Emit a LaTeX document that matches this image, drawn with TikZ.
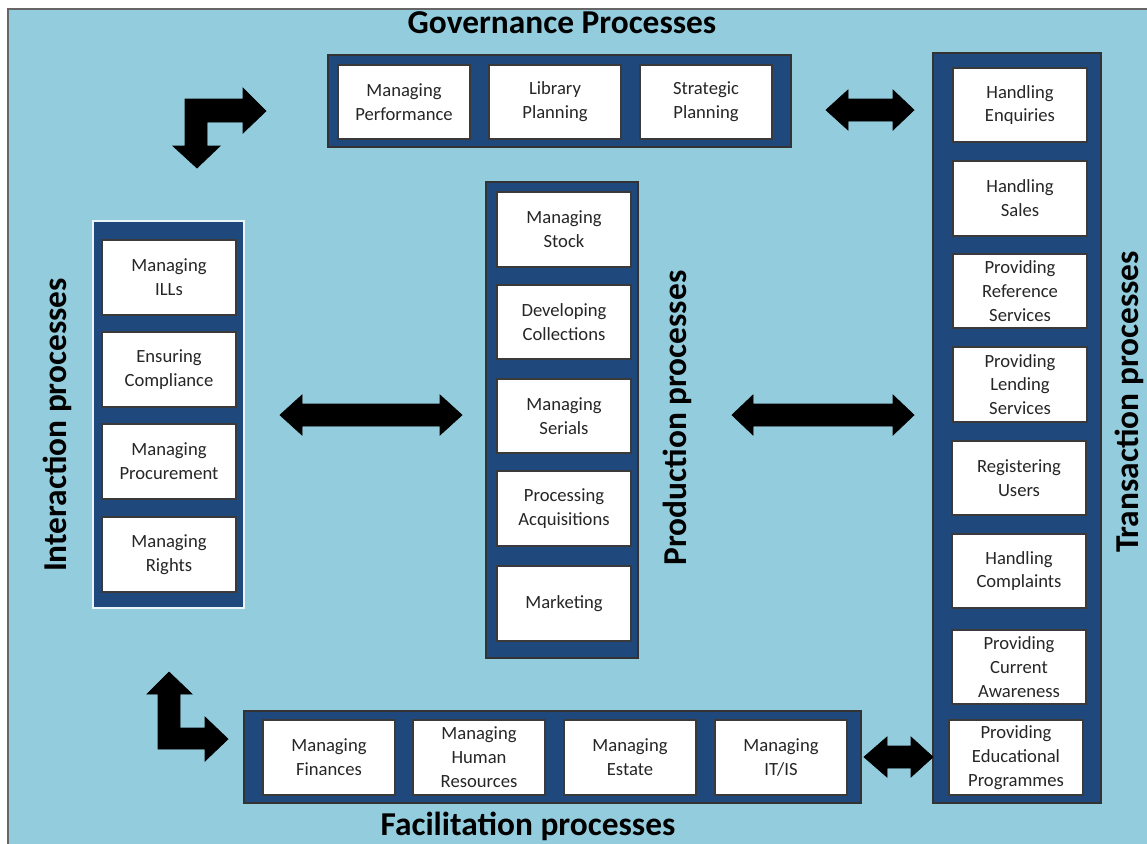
\documentclass[tikz,border=0pt]{standalone}
\usepackage{fontspec}
\setmainfont{Carlito}
\definecolor{bgblue}{HTML}{93CDDD}
\definecolor{darkblue}{HTML}{1F497D}
\definecolor{boxtext}{HTML}{262626}
\definecolor{boxedge}{HTML}{3A3A3A}
\tikzset{
  pbox/.style={draw=boxedge, line width=0.6pt, fill=white, inner sep=0pt, outer sep=0pt, align=center, text=boxtext, font=\fontsize{10.6}{13.6}\selectfont},
  container/.style={draw=black!80, line width=0.6pt, fill=darkblue, inner sep=0pt, outer sep=0pt},
  title/.style={font=\fontsize{19}{22}\bfseries\selectfont, text=black, inner sep=0pt},
  blockarrow/.style={fill=black, draw=black, line width=0.4pt, line join=miter}
}
\newcommand\pbox[6]{\node[pbox, minimum width={(#4-#2)*0.02cm}, minimum height={(#5-#3)*0.02cm}] (#1) at ({(#2+#4)/2},{(#3+#5)/2}) {#6};}
\newcommand\cbox[6][]{\node[container, #1, minimum width={(#5-#3)*0.02cm}, minimum height={(#6-#4)*0.02cm}] (#2) at ({(#3+#5)/2},{(#4+#6)/2}) {};}
% double arrow: left tip x, left head base x, right head base x, right tip x, centre y
\newcommand\dblarrow[5]{\fill[blockarrow] (#1,#5) -- (#2,#5-20) -- (#2,#5-11) -- (#3,#5-11) -- (#3,#5-20) -- (#4,#5) -- (#3,#5+20) -- (#3,#5+11) -- (#2,#5+11) -- (#2,#5+20) -- cycle;}
\begin{document}
\begin{tikzpicture}[x=0.02cm, y=-0.02cm]
\useasboundingbox (0,0) rectangle (1147,843);
\fill[white] (0,0) rectangle (1147,843);
\draw[fill=bgblue, draw=black!60, line width=0.6pt] (8,9) rectangle (1152,850);

% Governance
\node[title] (govtitle) at (562,23) {Governance Processes};
\cbox{gov}{328}{55}{791}{147}
\pbox{g1}{338}{65}{470}{139}{Managing\\Performance}
\pbox{g2}{489}{65}{621}{139}{Library\\Planning}
\pbox{g3}{640}{65}{772}{139}{Strategic\\Planning}

% Transaction
\cbox{tra}{933}{53}{1101}{803}
\pbox{t1}{953}{68}{1087}{142}{Handling\\Enquiries}
\pbox{t2}{953}{161}{1087}{236}{Handling\\Sales}
\pbox{t3}{953}{254}{1087}{328}{Providing\\Reference\\Services}
\pbox{t4}{953}{347}{1087}{422}{Providing\\Lending\\Services}
\pbox{t5}{952}{441}{1086}{515}{Registering\\Users}
\pbox{t6}{952}{534}{1086}{608}{Handling\\Complaints}
\pbox{t7}{952}{630}{1086}{704}{Providing\\Current\\Awareness}
\pbox{t8}{949}{720}{1083}{795}{Providing\\Educational\\Programmes}
\node[title, rotate=90] (tratitle) at (1129,402) {Transaction processes};

% Interaction
\cbox[draw=white!80!bgblue]{int}{93}{221}{244}{608}
\pbox{i1}{102}{240}{236}{315}{Managing\\ILLs}
\pbox{i2}{102}{332}{236}{407}{Ensuring\\Compliance}
\pbox{i3}{102}{424}{236}{499}{Managing\\Procurement}
\pbox{i4}{102}{517}{236}{592}{Managing\\Rights}
\node[title, rotate=90] (inttitle) at (57,425) {Interaction processes};

% Production
\cbox{pro}{486}{182}{638}{658}
\pbox{p1}{497}{192}{631}{267}{Managing\\Stock}
\pbox{p2}{497}{285}{631}{359}{Developing\\Collections}
\pbox{p3}{497}{379}{631}{453}{Managing\\Serials}
\pbox{p4}{497}{471}{631}{546}{Processing\\Acquisitions}
\pbox{p5}{497}{566}{631}{641}{Marketing}
\node[title, rotate=90] (protitle) at (677,418) {Production processes};

% Facilitation
\cbox{fac}{244}{711}{861}{803}
\pbox{f1}{263}{720}{395}{795}{Managing\\Finances}
\pbox{f2}{413}{720}{545}{795}{Managing\\Human\\Resources}
\pbox{f3}{564}{720}{696}{795}{Managing\\Estate}
\pbox{f4}{715}{720}{847}{795}{Managing\\IT/IS}
\node[title] (factitle) at (528,826) {Facilitation processes};

% Double arrows
\dblarrow{826}{848}{893}{914}{110}
\dblarrow{280}{302}{440}{462}{415}
\dblarrow{732}{753}{893}{914}{415}
\dblarrow{864}{887}{911}{933}{757}

% Bent arrows
\fill[blockarrow] (185,99) -- (243,99) -- (243,88) -- (266,111) -- (243,133) -- (243,122) -- (207,122) -- (207,146) -- (220,146) -- (197,168) -- (173,146) -- (185,146) -- cycle;
\fill[blockarrow] (169,672) -- (192,694) -- (180,694) -- (180,728) -- (205,728) -- (205,717) -- (228,739) -- (205,761) -- (205,749) -- (158,749) -- (158,694) -- (147,694) -- cycle;
\end{tikzpicture}
\end{document}
